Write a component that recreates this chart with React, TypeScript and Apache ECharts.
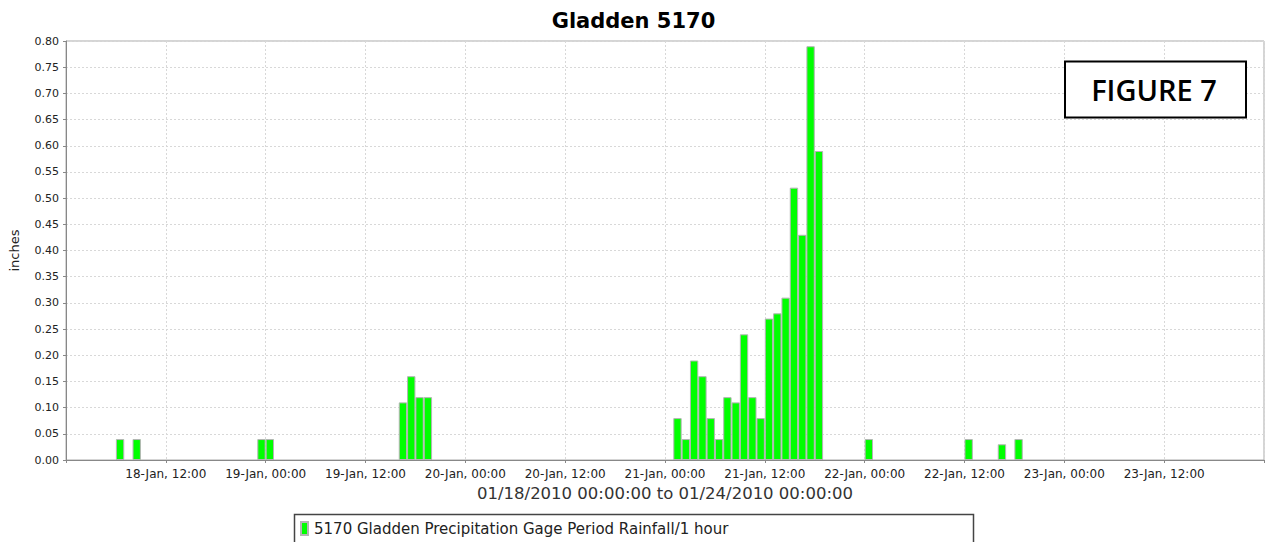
import React, { useEffect, useRef } from "react";
import * as echarts from "echarts";

// Hour-start times (UTC) and hourly rainfall (inches)
const hourStarts = [
  "2010-01-18T06:00:00Z", "2010-01-18T08:00:00Z", "2010-01-18T23:00:00Z", "2010-01-19T00:00:00Z",
  "2010-01-19T16:00:00Z", "2010-01-19T17:00:00Z", "2010-01-19T18:00:00Z", "2010-01-19T19:00:00Z",
  "2010-01-21T01:00:00Z", "2010-01-21T02:00:00Z", "2010-01-21T03:00:00Z", "2010-01-21T04:00:00Z",
  "2010-01-21T05:00:00Z", "2010-01-21T06:00:00Z", "2010-01-21T07:00:00Z", "2010-01-21T08:00:00Z",
  "2010-01-21T09:00:00Z", "2010-01-21T10:00:00Z", "2010-01-21T11:00:00Z", "2010-01-21T12:00:00Z",
  "2010-01-21T13:00:00Z", "2010-01-21T14:00:00Z", "2010-01-21T15:00:00Z", "2010-01-21T16:00:00Z",
  "2010-01-21T17:00:00Z", "2010-01-21T18:00:00Z",
  "2010-01-22T00:00:00Z", "2010-01-22T12:00:00Z", "2010-01-22T16:00:00Z", "2010-01-22T18:00:00Z",
];
const rainfall = [
  0.04, 0.04, 0.04, 0.04,
  0.11, 0.16, 0.12, 0.12,
  0.08, 0.04, 0.19, 0.16, 0.08, 0.04, 0.12, 0.11, 0.24, 0.12, 0.08, 0.27,
  0.28, 0.31, 0.52, 0.43, 0.79, 0.59,
  0.04, 0.04, 0.03, 0.04,
];
const rangeStart = "2010-01-18T00:00:00Z";
const rangeEnd = "2010-01-24T00:00:00Z";
const monthNames = ["Jan", "Feb", "Mar", "Apr", "May", "Jun", "Jul", "Aug", "Sep", "Oct", "Nov", "Dec"];

const titleText = "Gladden 5170";
const seriesName = "5170 Gladden Precipitation Gage Period Rainfall/1 hour";
const xAxisTitle = "01/18/2010 00:00:00 to 01/24/2010 00:00:00";
const yAxisTitle = "inches";
const figureLabel = "FIGURE 7";

const HOUR = 3600 * 1000;

export default function App() {
  const ref = useRef<HTMLDivElement>(null);
  useEffect(() => {
    if (!ref.current) return;
    const chart = echarts.init(ref.current, undefined, { renderer: "svg" });
    const t0 = Date.parse(rangeStart);
    const t1 = Date.parse(rangeEnd);
    const totalHours = (t1 - t0) / HOUR;
    // x in hours since range start, bar centred mid-hour
    const data = hourStarts.map((s, i) => [(Date.parse(s) - t0) / HOUR + 0.5, rainfall[i]]);
    const fmtTick = (v: number) => {
      if (v <= 0 || v >= totalHours) return "";
      const d = new Date(t0 + v * HOUR);
      const hh = String(d.getUTCHours()).padStart(2, "0");
      const mm = String(d.getUTCMinutes()).padStart(2, "0");
      return `${d.getUTCDate()}-${monthNames[d.getUTCMonth()]}, ${hh}:${mm}`;
    };
    const plotW = 1267 - 64;
    const hourPx = plotW / totalHours;
    chart.setOption({
      animation: false,
      backgroundColor: "#ffffff",
      textStyle: { fontFamily: "DejaVu Sans" },
      title: {
        text: titleText,
        left: "center",
        top: 5,
        textStyle: { fontSize: 21, fontWeight: "bold", color: "#000", fontFamily: "DejaVu Sans" },
      },
      legend: {
        left: 300,
        top: 521,
        padding: 0,
        itemWidth: 7,
        itemHeight: 13,
        itemGap: 5,
        icon: "rect",
        textStyle: { fontSize: 15, color: "#222", fontFamily: "DejaVu Sans", padding: [0, 0, 0, 1] },
        data: [seriesName],
      },
      grid: {
        left: 64,
        right: 0,
        top: 41,
        bottom: 82,
        show: true,
        borderColor: "#aaaaaa",
        borderWidth: 1,
        containLabel: false,
      },
      xAxis: {
        type: "value",
        min: 0,
        max: totalHours,
        interval: 12,
        name: xAxisTitle,
        nameLocation: "middle",
        nameGap: 25,
        nameTextStyle: { fontSize: 16.5, color: "#333", fontFamily: "DejaVu Sans" },
        axisLine: { show: true, lineStyle: { color: "#888", width: 1 } },
        axisTick: { show: true, length: 3, lineStyle: { color: "#888" } },
        axisLabel: { formatter: fmtTick, fontSize: 12, color: "#222", margin: 8, fontFamily: "DejaVu Sans" },
        splitLine: { show: true, lineStyle: { color: "#d8d8d8", type: [2, 2], width: 1 } },
      },
      yAxis: {
        type: "value",
        min: 0,
        max: 0.8,
        interval: 0.05,
        name: yAxisTitle,
        nameLocation: "middle",
        nameGap: 45,
        nameTextStyle: { fontSize: 13, color: "#222", fontFamily: "DejaVu Sans" },
        axisLine: { show: true, lineStyle: { color: "#888", width: 1 } },
        axisTick: { show: true, length: 3, lineStyle: { color: "#888" } },
        axisLabel: { formatter: (v: number) => v.toFixed(2), fontSize: 11, color: "#222", margin: 7, fontFamily: "DejaVu Sans" },
        splitLine: { show: true, lineStyle: { color: "#d8d8d8", type: [2, 2], width: 1 } },
      },
      series: [
        {
          name: seriesName,
          type: "bar",
          data,
          barWidth: hourPx,
          itemStyle: { color: "#00ff00", borderColor: "#b4b4b4", borderWidth: 1 },
        },
      ],
      graphic: [
        {
          type: "rect",
          shape: { x: 294.5, y: 514.5, width: 679, height: 40 },
          style: { fill: "none", stroke: "#444", lineWidth: 1.5 },
          z: 10,
        },
        {
          type: "rect",
          shape: { x: 1065, y: 61.5, width: 181, height: 56 },
          style: { fill: "#ffffff", stroke: "#000", lineWidth: 2 },
          z: 10,
        },
        {
          type: "text",
          x: 1154,
          y: 89.5,
          style: {
            text: figureLabel,
            fill: "#000",
            font: "600 29px 'Open Sans'",
            align: "center",
            verticalAlign: "middle",
          },
          z: 11,
        },
      ],
    });
    return () => chart.dispose();
  }, []);
  return <div ref={ref} style={{ position: "absolute", left: 0, top: 0, width: 1267, height: 542 }} />;
}
